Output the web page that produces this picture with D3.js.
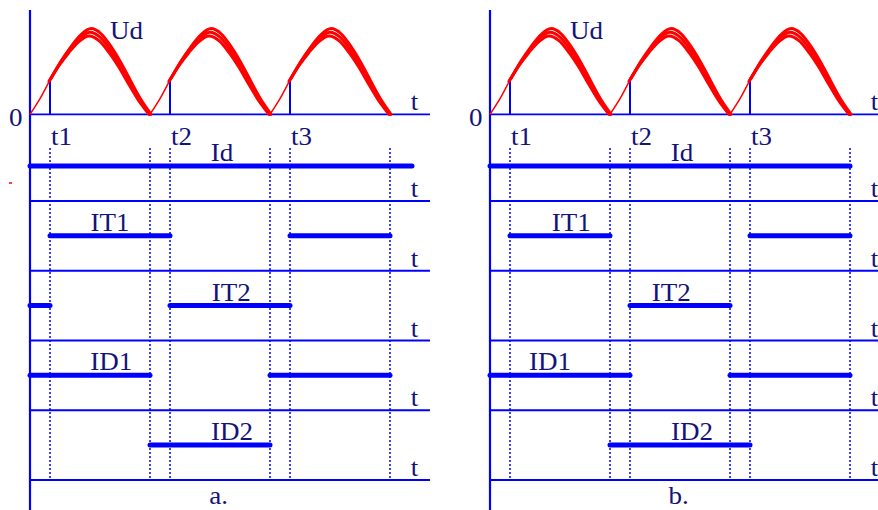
<!DOCTYPE html>
<html>
<head>
<meta charset="utf-8">
<script src="https://cdn.jsdelivr.net/npm/d3@7/dist/d3.min.js"></script>
<style>
  html, body { margin: 0; padding: 0; background: #ffffff; }
  svg { display: block; }
</style>
</head>
<body>
<svg id="chart" width="878" height="510"></svg>
<script>
// ---------- data (angles in electrical degrees) ----------
const panelLabels = ["a.", "b."];
const rowLabels = ["Id", "IT1", "IT2", "ID1", "ID2"];
const firingLabels = ["t1", "t2", "t3"];
const firingAngles = [30, 210, 390];
const commutationAngles = [180, 360, 540];
const halfWaveAngles = [0, 15, 30, 45, 60, 75, 90, 105, 120, 135, 150, 165, 180];
const udHalfWave = [0, 0.19, 0.42, 0.62, 0.79, 0.93, 1.0, 0.94, 0.79, 0.6, 0.38, 0.17, 0];
const halfWaveStarts = [0, 180, 360];
// conduction intervals per row [Id, IT1, IT2, ID1, ID2]
const intervalsA = [
  [[0, 573]],
  [[30, 210], [390, 540]],
  [[0, 30], [210, 390]],
  [[0, 180], [360, 540]],
  [[180, 360]]
];
const intervalsB = [
  [[0, 540]],
  [[30, 180], [390, 540]],
  [[210, 360]],
  [[0, 210], [360, 540]],
  [[180, 390]]
];
// label anchor angles per row
const rowLabelAtA = [288, 120, 302, 122, 303];
const rowLabelAtB = [288, 122, 272, 90, 303];
const udLabelAt = 120;
const tLabelAt = 571;
const panelLabelAt = 283;

// ---------- drawing ----------
const svg = d3.select("#chart");
const BLUE = "#0000ff";
const INK = "#13137a";
const RED = "#ff0000";
const FONT = "'Liberation Serif', 'Times New Roman', serif";
const FS = 25;
const SX = 1.08;

const yUd = d3.scaleLinear().domain([0, 1]).range([114.3, 32.3]);
const yRow = d3.scaleLinear().domain([0, rowLabels.length - 1]).range([201, 480]);
const level = i => yRow(i) - 35;

function label(g, txt, x, y, anchor) {
  g.append("text")
    .attr("transform", `translate(${x},${y}) scale(${SX},1)`)
    .attr("text-anchor", anchor || "start")
    .attr("font-family", FONT)
    .attr("font-size", FS)
    .attr("fill", INK)
    .text(txt);
}

// stray red speck in the original
svg.append("rect").attr("x", 9).attr("y", 182).attr("width", 3).attr("height", 2).attr("fill", "#ff4040");

[{ off: 0, intervals: intervalsA, labAt: rowLabelAtA },
 { off: 460, intervals: intervalsB, labAt: rowLabelAtB }].forEach((p, pi) => {
  const g = svg.append("g");
  const x = d3.scaleLinear().domain([0, 540]).range([30 + p.off, 390 + p.off]);
  const xEnd = x(600);

  // dotted guide lines
  const guides = firingAngles.concat(commutationAngles).sort((a, b) => a - b);
  g.selectAll("line.guide").data(guides).join("line")
    .attr("x1", d => x(d)).attr("x2", d => x(d))
    .attr("y1", 148).attr("y2", yRow(rowLabels.length - 1))
    .attr("stroke", BLUE).attr("stroke-width", 1.5)
    .attr("stroke-dasharray", "2,2");

  // main vertical axis
  g.append("line")
    .attr("x1", x(0)).attr("x2", x(0)).attr("y1", 10).attr("y2", 510)
    .attr("stroke", BLUE).attr("stroke-width", 2.2);

  // Ud zero axis
  g.append("line")
    .attr("x1", x(0)).attr("x2", xEnd).attr("y1", yUd(0)).attr("y2", yUd(0))
    .attr("stroke", BLUE).attr("stroke-width", 1.8);

  // row time axes
  g.selectAll("line.row").data(rowLabels).join("line")
    .attr("x1", x(0)).attr("x2", xEnd)
    .attr("y1", (d, i) => yRow(i)).attr("y2", (d, i) => yRow(i))
    .attr("stroke", BLUE).attr("stroke-width", 1.8);

  // firing verticals on Ud
  const udAtFiring = udHalfWave[halfWaveAngles.indexOf(firingAngles[0])];
  g.selectAll("line.fire").data(firingAngles).join("line")
    .attr("x1", d => x(d)).attr("x2", d => x(d))
    .attr("y1", yUd(0)).attr("y2", yUd(udAtFiring))
    .attr("stroke", BLUE).attr("stroke-width", 2);

  // Ud curve
  const line = d3.line().x(d => x(d[0])).y(d => yUd(d[1])).curve(d3.curveMonotoneX);
  const firstThick = halfWaveAngles.indexOf(firingAngles[0]);
  const strands = [[0.955, -1.6], [1.0, 0], [1.045, 1.6]];
  halfWaveStarts.forEach(s => {
    const pts = halfWaveAngles.map((a, i) => [s + a, udHalfWave[i]]);
    g.append("path").attr("d", line(pts.slice(0, firstThick + 1)))
      .attr("fill", "none").attr("stroke", RED).attr("stroke-width", 1.5);
    strands.forEach(([f, dx]) => {
      const thick = pts.slice(firstThick).map(d => [d[0] + dx, d[1] * f]);
      g.append("path").attr("d", line(thick))
        .attr("fill", "none").attr("stroke", RED).attr("stroke-width", 3)
        .attr("stroke-linecap", "round").attr("stroke-linejoin", "round");
    });
  });

  // conduction bars
  p.intervals.forEach((segs, ri) => {
    g.selectAll(null).data(segs).join("line")
      .attr("x1", d => x(d[0])).attr("x2", d => x(d[1]))
      .attr("y1", level(ri)).attr("y2", level(ri))
      .attr("stroke", BLUE).attr("stroke-width", 5)
      .attr("stroke-linecap", "round");
  });

  // texts
  label(g, "0", x(0) - 21, yUd(0) + 11.5);
  label(g, "Ud", x(udLabelAt), 39);
  label(g, "t", x(tLabelAt), yUd(0) - 4.5);
  rowLabels.forEach((r, i) => {
    label(g, "t", x(tLabelAt), yRow(i) - 4);
    label(g, r, x(p.labAt[i]), level(i) - 5, "middle");
  });
  firingLabels.forEach((t, i) => label(g, t, x(firingAngles[i]) + 1, 145));
  label(g, panelLabels[pi], x(panelLabelAt), 504, "middle");
});
</script>
</body>
</html>
